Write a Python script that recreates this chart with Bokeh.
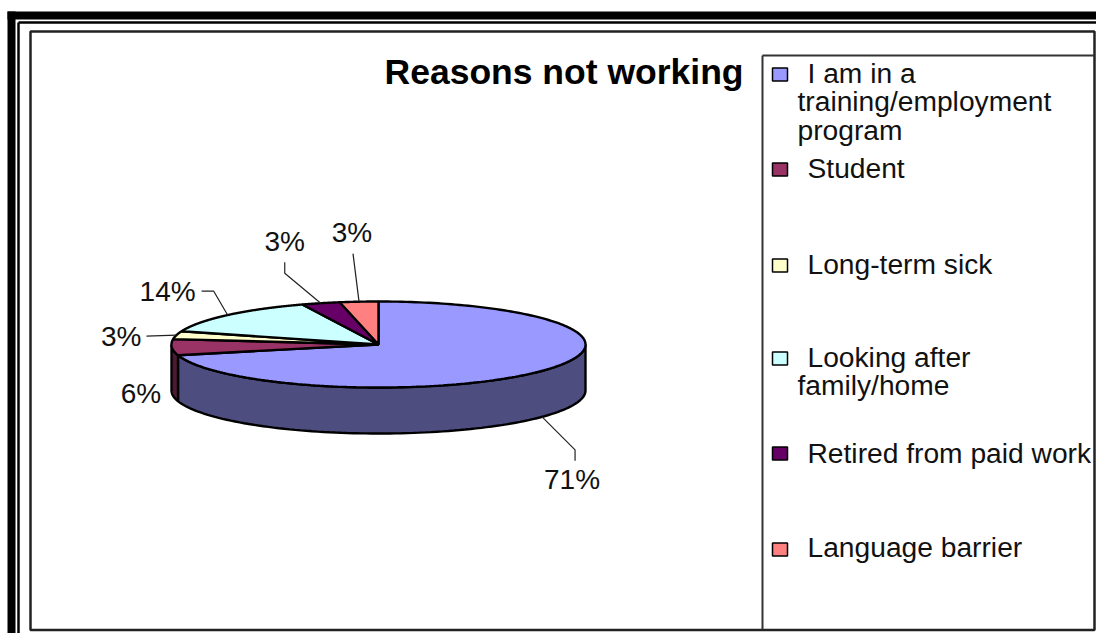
import numpy as np
from bokeh.plotting import figure
from bokeh.core.properties import value
from bokeh.embed import file_html
from bokeh.resources import INLINE

# ---- data
title = "Reasons not working"
categories = ["I am in a training/employment program", "Student", "Long-term sick",
              "Looking after family/home", "Retired from paid work", "Language barrier"]
percents = [71, 6, 3, 14, 3, 3]
top_colors = ["#9999FF", "#993366", "#FFFFCC", "#CCFFFF", "#660066", "#FF8080"]
side_colors = ["#4D4D80", "#4D1A33", "#80805F", "#608080", "#330033", "#804040"]
legend_lines = [["I am in a", "training/employment", "program"], ["Student"], ["Long-term sick"],
                ["Looking after", "family/home"], ["Retired from paid work"], ["Language barrier"]]

# ---- layout (figure pixels)
W, H = 1096, 633
FONT = value("Liberation Sans")
CX, CY, RX, RY, DEPTH = 378, 344, 207, 43, 46
LABEL_SIZE = "28px"
LEG_SIZE = "28.2px"

p = figure(width=W, height=H, output_backend="svg", toolbar_location=None,
           x_range=(0, W), y_range=(H, 0), min_border=0,
           outline_line_color=None, background_fill_color="white", border_fill_color="white")
p.axis.visible = False
p.grid.visible = False


def pt(t, dy=0.0):
    return CX + RX * np.sin(t), CY - RY * np.cos(t) + dy


# frame
p.quad(left=[7, 7], right=[15, 1110], top=[11, 11], bottom=[700, 19], fill_color="black", line_color=None)
p.segment(x0=[18, 18], y0=[22, 22], x1=[18, 1110], y1=[700, 22], line_color="black", line_width=2.5)
p.quad(left=[30], right=[1094], top=[31], bottom=[629.5], fill_color="white", line_color="#222222", line_width=2.5)
p.segment(x0=[762, 762], y0=[55, 55], x1=[762, 1094], y1=[629, 55], line_color="#333333", line_width=2)

# pie
ends = np.cumsum(percents) / sum(percents) * 2 * np.pi
starts = np.concatenate([[0], ends[:-1]])

# sides: only the near half of the rim (pi/2 .. 3pi/2) is visible
for s, e, c in zip(starts, ends, side_colors):
    a, b = max(s, np.pi / 2), min(e, 3 * np.pi / 2)
    if a >= b:
        continue
    t = np.linspace(a, b, 100)
    x0, y0 = pt(t)
    x1, y1 = pt(t[::-1], DEPTH)
    p.patch(np.r_[x0, x1], np.r_[y0, y1], fill_color=c, line_color="black", line_width=2.4)

# top faces
for s, e, c in zip(starts, ends, top_colors):
    t = np.linspace(s, e, 200)
    x, y = pt(t)
    p.patch(np.r_[CX, x], np.r_[CY, y], fill_color=c, line_color="black", line_width=2.4)

# slice labels and leaders: offsets from each slice's rim point
mids = (starts + ends) / 2
leader_offsets = [
    (DEPTH, [(33, 33), (33, 44)], (30, 63), "center"),
    (0, [], (-31, 46), "center"),
    (0, [(-30, 1)], (-35, 1), "right"),
    (0, [(-14, -24), (-26, -24)], (-32, -24), "right"),
    (0, [(-36, -30), (-36, -41)], (-36, -62), "center"),
    (0, [(-6, -48)], (-7, -69), "center"),
]
for pct, mid, (dy, elbow, lab, align) in zip(percents, mids, leader_offsets):
    ax, ay = pt(mid, dy)
    xs = [ax] + [ax + o[0] for o in elbow]
    ys = [ay] + [ay + o[1] for o in elbow]
    if elbow:
        p.line(xs, ys, line_color="#222222", line_width=1.2)
    p.text([ax + lab[0]], [ay + lab[1]], text=[f"{pct}%"], text_font=FONT, text_font_size=LABEL_SIZE,
           text_color="#111111", text_align=align, text_baseline="middle")

# title
p.text([743], [71], text=[title], text_font=FONT, text_font_size="35.5px", text_font_style="bold",
       text_color="black", text_align="right", text_baseline="middle")

# legend
key_y = [74, 169, 265, 358, 453, 549]
text_y = [72, 167, 263, 356, 452, 546]
LINE_STEP = 28.5
for lines, c, ky, ty in zip(legend_lines, top_colors, key_y, text_y):
    p.rect([779.5], [ky], width=15, height=13, fill_color=c, line_color="black", line_width=1.5)
    for i, line in enumerate(lines):
        p.text([807 if i == 0 else 797], [ty + i * LINE_STEP], text=[line], text_font=FONT, text_font_size=LEG_SIZE,
               text_color="#111111", text_align="left", text_baseline="middle")

open("out.html", "w").write(file_html(p, INLINE))
